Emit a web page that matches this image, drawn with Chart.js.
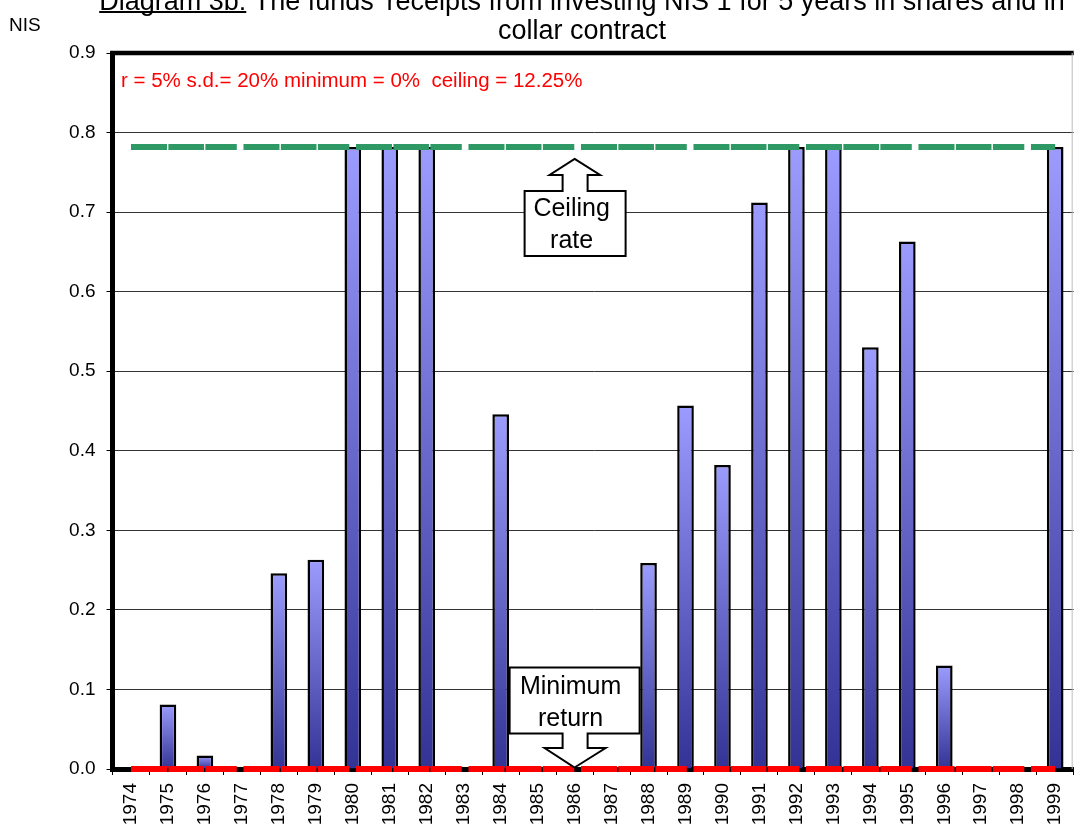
<!DOCTYPE html>
<html>
<head>
<meta charset="utf-8">
<script src="https://cdn.jsdelivr.net/npm/chart.js@4/dist/chart.umd.min.js"></script>
<style>
  html, body { margin: 0; padding: 0; background: #ffffff; overflow: hidden; }
  #chart { display: block; }
</style>
</head>
<body>
<canvas id="chart" width="1086" height="831"></canvas>
<script>
// Years on the category axis
const years = ['1974','1975','1976','1977','1978','1979','1980','1981','1982','1983',
               '1984','1985','1986','1987','1988','1989','1990','1991','1992','1993',
               '1994','1995','1996','1997','1998','1999'];

// Fund receipts (NIS) from investing NIS 1 for 5 years, capped by the collar
const receipts = [0, 0.081, 0.017, 0, 0.246, 0.263, 0.782, 0.782, 0.782, 0,
                  0.446, 0, 0, 0, 0.259, 0.457, 0.382, 0.712, 0.782, 0.782,
                  0.530, 0.663, 0.130, 0, 0, 0.782];

// Collar bounds: ceiling of 12.25% a year over 5 years, minimum return 0%
const ceilingRate = 0.782;
const minimumRate = 0;
const ceilingLine = years.map(() => ceilingRate);
const minimumLine = years.map(() => minimumRate);

// Value axis ticks
const yTicks = [0, 0.1, 0.2, 0.3, 0.4, 0.5, 0.6, 0.7, 0.8, 0.9];

const FONT = "'Liberation Sans', Arial, Helvetica, sans-serif";

// Vertical gradient for each bar, light at the top and dark at the base
function barFill(ctx) {
  const chart = ctx.chart;
  if (!chart.chartArea || ctx.type !== 'data') return '#6666cc';
  const y = chart.scales.y;
  const top = y.getPixelForValue(ctx.raw);
  const base = y.getPixelForValue(0);
  if (base - top < 1) return '#333399';
  const g = chart.ctx.createLinearGradient(0, top, 0, base);
  g.addColorStop(0, '#9c9cff');
  g.addColorStop(1, '#333395');
  return g;
}

// Frame, title, unit label, parameter note and the two callouts
const decorations = {
  id: 'decorations',
  afterDraw(chart) {
    const c = chart.ctx;
    const a = chart.chartArea;
    const x = chart.scales.x, y = chart.scales.y;
    c.save();

    // top frame line and thin right edge
    c.strokeStyle = '#000';
    c.lineWidth = 4.5;
    c.beginPath();
    c.moveTo(a.left - 2.5, a.top);
    c.lineTo(a.right, a.top);
    c.stroke();
    c.strokeStyle = '#bdbdbd';
    c.lineWidth = 1;
    c.beginPath();
    c.moveTo(a.right - 1.5, a.top);
    c.lineTo(a.right - 1.5, a.bottom);
    c.stroke();

    // title
    c.fillStyle = '#000';
    c.font = '27px ' + FONT;
    c.textBaseline = 'alphabetic';
    const head = 'Diagram 3b:';
    const rest = " The funds' receipts from investing NIS 1 for 5 years in shares and in";
    const wHead = c.measureText(head).width;
    const wAll = c.measureText(head + rest).width;
    const cx = 582;
    const x0 = cx - wAll / 2;
    c.textAlign = 'left';
    c.fillText(head + rest, x0, 10);
    c.fillRect(x0, 11, wHead, 2);
    c.textAlign = 'center';
    c.fillText('collar contract', cx, 39);

    // unit label
    c.font = '19px ' + FONT;
    c.textAlign = 'left';
    c.fillText('NIS', 9, 31);

    // parameter note
    c.fillStyle = '#ff0000';
    c.font = '20.5px ' + FONT;
    c.fillText('r = 5% s.d.= 20% minimum = 0%  ceiling = 12.25%', 121, 87);

    // callouts anchored on 1986
    const ax = x.getPixelForValue(12);
    const yc = y.getPixelForValue(ceilingRate);
    const ym = y.getPixelForValue(minimumRate);
    c.strokeStyle = '#000';
    c.fillStyle = '#fff';
    c.lineWidth = 2;
    c.lineJoin = 'miter';

    // "Ceiling rate": up arrow on top of a box
    let tipY = yc + 12;
    c.beginPath();
    c.moveTo(ax, tipY);
    c.lineTo(ax + 25.5, tipY + 16);
    c.lineTo(ax + 13, tipY + 16);
    c.lineTo(ax + 13, tipY + 32);
    c.lineTo(ax + 51, tipY + 32);
    c.lineTo(ax + 51, tipY + 97);
    c.lineTo(ax - 50, tipY + 97);
    c.lineTo(ax - 50, tipY + 32);
    c.lineTo(ax - 12, tipY + 32);
    c.lineTo(ax - 12, tipY + 16);
    c.lineTo(ax - 25, tipY + 16);
    c.closePath();
    c.fill();
    c.stroke();
    c.fillStyle = '#000';
    c.font = '25px ' + FONT;
    c.textAlign = 'center';
    c.fillText('Ceiling', ax - 3, tipY + 57);
    c.fillText('rate', ax - 3, tipY + 89);

    // "Minimum return": box with a down arrow to the zero line
    tipY = ym - 1.5;
    c.fillStyle = '#fff';
    c.beginPath();
    c.moveTo(ax, tipY);
    c.lineTo(ax + 31, tipY - 19.5);
    c.lineTo(ax + 13, tipY - 19.5);
    c.lineTo(ax + 13, tipY - 34);
    c.lineTo(ax + 65, tipY - 34);
    c.lineTo(ax + 65, tipY - 100);
    c.lineTo(ax - 65, tipY - 100);
    c.lineTo(ax - 65, tipY - 34);
    c.lineTo(ax - 12, tipY - 34);
    c.lineTo(ax - 12, tipY - 19.5);
    c.lineTo(ax - 30, tipY - 19.5);
    c.closePath();
    c.fill();
    c.stroke();
    c.fillStyle = '#000';
    c.fillText('Minimum', ax - 4, tipY - 74);
    c.fillText('return', ax - 4, tipY - 42);

    c.restore();
  }
};

new Chart(document.getElementById('chart'), {
  data: {
    labels: years,
    datasets: [
      {
        type: 'line',
        label: 'Ceiling',
        data: ceilingLine,
        borderColor: '#2e9964',
        borderWidth: 6,
        borderDash: [36, 1.4, 35.6, 1.4, 31.4, 6.7],
        borderCapStyle: 'butt',
        pointRadius: 0,
        fill: false,
        clip: false,
        order: 0
      },
      {
        type: 'line',
        label: 'Minimum',
        data: minimumLine,
        borderColor: '#ff0000',
        borderWidth: 6,
        borderDash: [36, 1.4, 35.6, 1.4, 31.4, 6.7],
        borderCapStyle: 'butt',
        pointRadius: 0,
        fill: false,
        clip: false,
        order: 0
      },
      {
        type: 'bar',
        label: 'Receipts',
        data: receipts,
        backgroundColor: barFill,
        borderColor: '#000',
        borderWidth: 2.5,
        categoryPercentage: 1,
        barPercentage: 0.45,
        order: 1
      }
    ]
  },
  options: {
    responsive: false,
    animation: false,
    layout: { padding: { top: 53, right: 0, left: 0, bottom: 0 } },
    plugins: {
      legend: { display: false },
      title: { display: false },
      tooltip: { enabled: false }
    },
    scales: {
      x: {
        type: 'category',
        offset: true,
        grid: {
          display: true,
          drawOnChartArea: false,
          offset: true,
          tickLength: 6,
          tickColor: '#000',
          tickWidth: 1
        },
        border: { display: true, color: '#000', width: 5 },
        ticks: {
          color: '#000',
          font: { family: FONT, size: 19 },
          minRotation: 90,
          maxRotation: 90,
          padding: 8,
          autoSkip: false
        },
        afterFit(scale) { scale.height = 62; }
      },
      y: {
        type: 'linear',
        min: 0,
        max: 0.9,
        afterBuildTicks(scale) { scale.ticks = yTicks.map(v => ({ value: v })); },
        grid: {
          color: '#333333',
          lineWidth: 1,
          tickLength: 6,
          tickColor: '#000'
        },
        border: { display: true, color: '#000', width: 5 },
        ticks: {
          color: '#000',
          font: { family: FONT, size: 19 },
          padding: 11,
          callback: (v) => Number(v).toFixed(1)
        },
        afterFit(scale) { scale.width = 112.5; }
      }
    }
  },
  plugins: [decorations]
});
</script>
</body>
</html>
